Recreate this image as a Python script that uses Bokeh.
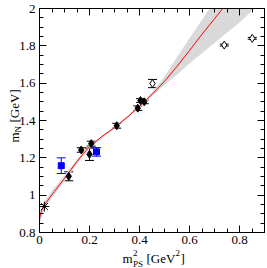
import math
from bokeh.plotting import figure
from bokeh.layouts import column
from bokeh.models import (Range1d, FixedTicker, LinearAxis, Whisker, TeeHead,
                          ColumnDataSource, CustomLabelingPolicy)
from bokeh.core.properties import value
from bokeh.embed import file_html
from bokeh.resources import INLINE

# ---------------- data ----------------
x_ticks = [0, 0.2, 0.4, 0.6, 0.8]
x_tick_labels = ["0", "0.2", "0.4", "0.6", "0.8"]
x_minor = [0.05 * i for i in range(19)]
y_ticks = [0.8, 1.0, 1.2, 1.4, 1.6, 1.8, 2.0]
y_tick_labels = ["0.8", "1", "1.2", "1.4", "1.6", "1.8", "2"]
y_minor = [0.8 + 0.05 * i for i in range(25)]

# black filled points
x_black = [0.117, 0.167, 0.200, 0.207, 0.309, 0.393, 0.404, 0.419]
y_black = [1.101, 1.242, 1.219, 1.276, 1.372, 1.466, 1.507, 1.500]
e_black = [0.024, 0.012, 0.033, 0.013, 0.013, 0.012, 0.010, 0.010]

# open points
x_open = [0.452, 0.739, 0.851]
y_open = [1.598, 1.804, 1.840]
e_open = [0.022, 0.005, 0.005]

# blue squares
x_blue = [0.087, 0.228]
y_blue = [1.158, 1.232]
e_blue = [0.042, 0.023]

# physical point (star)
x_star = [0.0195]
y_star = [0.939]

# fit curve
fit_x = [0.0, 0.005, 0.01, 0.02, 0.04, 0.06, 0.08, 0.10, 0.125, 0.15, 0.175,
         0.20, 0.25, 0.30, 0.35, 0.40, 0.45, 0.50, 0.55, 0.60, 0.65, 0.70, 0.74]
fit_y = [0.870, 0.905, 0.922, 0.948, 0.985, 1.020, 1.055, 1.090, 1.135, 1.180,
         1.222, 1.260, 1.315, 1.362, 1.416, 1.476, 1.540, 1.610, 1.690, 1.775,
         1.862, 1.945, 2.012]

# error band
band_x = [0.0, 0.02, 0.05, 0.10, 0.15, 0.20, 0.30, 0.40, 0.45, 0.50, 0.55,
          0.60, 0.65, 0.70, 0.75, 0.80, 0.86, 0.90]
band_lo = [0.845, 0.928, 0.988, 1.075, 1.168, 1.250, 1.357, 1.470, 1.530,
           1.590, 1.645, 1.705, 1.760, 1.815, 1.870, 1.925, 2.000, 2.050]
band_hi = [0.895, 0.968, 1.025, 1.105, 1.192, 1.268, 1.366, 1.482, 1.550,
           1.635, 1.740, 1.840, 1.940, 2.040, 2.140, 2.250, 2.380, 2.460]

FONT = "Liberation Serif"
W, H = 267, 268

p = figure(width=W, height=H, x_range=Range1d(0, 0.9), y_range=Range1d(0.8, 2.0),
           output_backend="svg", toolbar_location=None,
           min_border_left=39, min_border_right=3, min_border_top=8, min_border_bottom=36)
p.frame_align = False
p.grid.visible = False
p.outline_line_color = "black"
p.outline_line_width = 1
p.background_fill_color = "white"
p.border_fill_color = "white"

xt = FixedTicker(ticks=x_ticks, minor_ticks=x_minor)
yt = FixedTicker(ticks=y_ticks, minor_ticks=y_minor)


def style(ax, show_labels):
    ax.major_tick_in = 7
    ax.major_tick_out = 0
    ax.minor_tick_in = 4
    ax.minor_tick_out = 0
    ax.axis_line_color = "black"
    ax.major_tick_line_color = "black"
    ax.minor_tick_line_color = "black"
    ax.major_label_text_font = FONT
    ax.major_label_text_color = "black"
    if show_labels:
        ax.major_label_text_font_size = "13px"
    else:
        ax.major_label_text_font_size = "0px"
        ax.major_label_policy = CustomLabelingPolicy(code="return []")
        ax.major_label_standoff = 0


p.xaxis.ticker = xt
p.yaxis.ticker = yt
p.xaxis.major_label_overrides = {t: s for t, s in zip(x_ticks, x_tick_labels)}
p.yaxis.major_label_overrides = {t: s for t, s in zip(y_ticks, y_tick_labels)}
style(p.xaxis[0], True)
style(p.yaxis[0], True)
p.xaxis.major_label_standoff = 3
p.yaxis.major_label_standoff = 4

top = LinearAxis(ticker=xt)
style(top, False)
p.add_layout(top, "above")
right = LinearAxis(ticker=yt)
style(right, False)
p.add_layout(right, "right")

# band and fit curve
p.varea(x=band_x, y1=band_lo, y2=band_hi, fill_color="#d9d9d9")
p.line(fit_x, fit_y, line_color="#ff0000", line_width=1)


def errbars(xs, ys, es, color):
    src = ColumnDataSource(dict(x=xs, lo=[y - e for y, e in zip(ys, es)],
                                hi=[y + e for y, e in zip(ys, es)]))
    w = Whisker(source=src, base="x", lower="lo", upper="hi", dimension="height",
                line_color=color, line_width=1,
                upper_head=TeeHead(size=9, line_color=color, line_width=1),
                lower_head=TeeHead(size=9, line_color=color, line_width=1))
    p.add_layout(w)


errbars(x_black, y_black, e_black, "black")
errbars(x_open, y_open, e_open, "black")
errbars(x_blue, y_blue, e_blue, "#0000ff")

p.scatter(x_black, y_black, marker="diamond", size=8, fill_color="black", line_color="black")
p.scatter(x_open, y_open, marker="diamond", size=8, fill_color="white", line_color="black")
p.scatter(x_blue, y_blue, marker="square", size=6, fill_color="#0000ff", line_color="#0000ff")
p.scatter(x_star, y_star, marker="asterisk", size=10, line_color="black", line_width=1)

# ---- transparent overlay carrying the axis titles (with sub/superscripts) ----
ov = figure(width=W, height=H, x_range=Range1d(0, W), y_range=Range1d(0, H),
            output_backend="svg", toolbar_location=None, min_border=0,
            x_axis_location=None, y_axis_location=None, margin=(-H, 0, 0, 0))
ov.frame_align = False
ov.grid.visible = False
ov.outline_line_color = None
ov.background_fill_color = None
ov.border_fill_color = None


def txt(texts, xs, ys, size, angle=0.0):
    # xs / ys given in canvas pixels from the top-left corner
    ov.text(x=xs, y=[H - y for y in ys], text=texts, angle=angle,
            text_font=value(FONT), text_font_size=value(size), text_color="black",
            text_align="left", text_baseline="alphabetic")


# x-axis title: m^2_PS [GeV^2]
txt(["m", "[GeV", "]"], [122, 146, 180], [258, 258, 258], "13px")
txt(["2", "PS", "2"], [132.5, 132.5, 175], [252, 263, 252], "9px")

# y-axis title: m_N [GeV]
a = math.pi / 2
txt(["m", "[GeV]"], [14, 14], [142, 122], "13px", a)
txt(["N"], [17], [131.9], "9px", a)

open("out.html", "w").write(file_html(column(p, ov, spacing=0), INLINE))
